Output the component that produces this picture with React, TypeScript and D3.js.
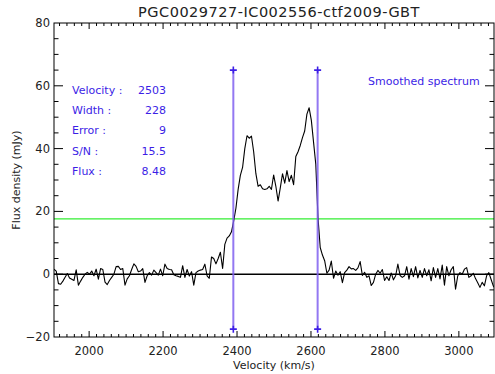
import React, { useEffect, useRef } from 'react';
import * as d3 from 'd3';

// spectrum: channels start at 1905 km/s, 6 km/s apart
const startVelocity = 1905;
const channelWidth = 6;
const flux = [
  1.6, 1.0, -3.0, -3.2, -2.2, -1.0, 0.2, -1.2, -1.6, -2.0,
  1.4, -3.5, -2.2, -1.0, 0.0, 0.6, 0.0, 1.0, -0.5, 1.6,
  -1.6, 1.8, 1.5, -2.5, -3.3, -2.0, -1.0, 0.0, 2.4, 2.5,
  1.5, 1.8, -3.5, -1.5, -0.5, 1.5, 3.3, 2.5, 0.8, 1.0,
  1.8, -2.6, -0.5, 0.5, -0.3, 1.3, 0.5, -0.3, 1.6, -0.5,
  3.2, 1.8, 1.5, 1.4, -0.2, -0.5, -0.7, -1.0, 2.7, -1.0,
  1.5, -0.6, 0.8, -3.5, 0.5, 1.0, 1.3, 1.5, 3.2, -0.5,
  -1.3, 5.5, 5.0, 3.3, 5.0, 7.0, 1.8, 9.5, 11.5, 12.2,
  13.5, 17.0, 21.0, 27.0, 31.5, 34.0, 40.0, 44.1, 43.3, 44.0,
  39.0, 32.0, 28.0, 28.5, 27.2, 27.0, 27.2, 28.0, 27.0, 31.6,
  28.0, 23.3, 27.5, 32.0, 29.0, 33.0, 29.5, 31.5, 28.5, 37.5,
  39.0, 41.0, 43.5, 45.6, 51.0, 53.0, 49.0, 42.0, 35.0, 18.0,
  8.5, 6.1, 4.3, 0.3, 1.3, 4.2, -1.3, 1.0, -0.3, 0.8,
  -2.7, 0.5, 1.3, 2.4, 1.7, 1.8, 1.2, 2.0, 4.0, -0.4,
  0.6, -1.0, -0.5, -3.6, -2.6, 0.0, 1.2, 0.3, 1.5, -2.0,
  -0.8, -2.0, 0.4, -1.8, -0.5, 3.2, -0.4, -1.0, -0.5, 2.4,
  -1.6, 1.8, -0.8, 2.4, -1.2, 1.2, -1.0, 1.8, -0.5, 1.4,
  -2.1, 2.1, -1.0, 1.8, -1.5, 2.9, -3.5, 2.4, -0.5, 1.4,
  2.4, -4.8, -0.5, 0.5, 0.0, 1.6, 2.1, -1.0, -0.5, 0.3,
  -1.4, -2.7, -4.2, -2.6, -3.7, -0.5, 0.5, -1.6, -3.7, -4.6,
  -5.0,
];

const title = 'PGC0029727-IC002556-ctf2009-GBT';
const edgeVelocities = [2390, 2618];
const edgeRange = [-17.5, 65];
const threshold = 17.6;
const statLabels = ['Velocity :', 'Width :', 'Error :', 'S/N :', 'Flux :'];
const statValues = ['2503', '228', '9', '15.5', '8.48'];
const xTicks = [2000, 2200, 2400, 2600, 2800, 3000];
const yTicks = [-20, 0, 20, 40, 60, 80];

const W = 495;
const H = 374;
const margin = { top: 23, right: 1, bottom: 37, left: 54 };
const blue = '#3c1ee6';
const font = 'DejaVu Sans, sans-serif';

const App: React.FC = () => {
  const svgRef = useRef<SVGSVGElement>(null);

  useEffect(() => {
    const svg = d3.select(svgRef.current).html('');
    const x = d3.scaleLinear().domain([1905, 3095]).range([margin.left, W - margin.right]);
    const y = d3.scaleLinear().domain([-20, 80]).range([H - margin.bottom, margin.top]);
    const [x0, x1] = x.range();
    const [yb, yt] = y.range();

    svg.append('defs').append('clipPath').attr('id', 'plot-clip')
      .append('rect').attr('x', x0).attr('y', yt).attr('width', x1 - x0).attr('height', yb - yt);

    // title
    svg.append('text')
      .attr('x', 279).attr('y', 17)
      .attr('text-anchor', 'middle')
      .attr('font-family', font).attr('font-size', 14.5)
      .attr('letter-spacing', 0.5)
      .attr('fill', '#222')
      .text(title);

    const plot = svg.append('g').attr('clip-path', 'url(#plot-clip)');

    // zero line + threshold
    plot.append('line')
      .attr('x1', x0).attr('x2', x1).attr('y1', y(0)).attr('y2', y(0))
      .attr('stroke', '#000').attr('stroke-width', 1.6);
    plot.append('line')
      .attr('x1', x0).attr('x2', x1).attr('y1', y(threshold)).attr('y2', y(threshold))
      .attr('stroke', '#33ee33').attr('stroke-width', 1.3);

    // spectrum
    const line = d3.line<number>()
      .x((_, i) => x(startVelocity + i * channelWidth))
      .y(d => y(d));
    plot.append('path')
      .datum(flux)
      .attr('d', line)
      .attr('fill', 'none')
      .attr('stroke', '#000')
      .attr('stroke-width', 1.1)
      .attr('stroke-linejoin', 'round');

    // profile edges
    edgeVelocities.forEach(v => {
      plot.append('line')
        .attr('x1', x(v)).attr('x2', x(v))
        .attr('y1', y(edgeRange[0])).attr('y2', y(edgeRange[1]))
        .attr('stroke', '#8060f0').attr('stroke-opacity', 0.85).attr('stroke-width', 2);
      edgeRange.forEach(r => {
        plot.append('path')
          .attr('d', `M${x(v) - 3.5},${y(r)}h7M${x(v)},${y(r) - 3.5}v7`)
          .attr('stroke', blue).attr('stroke-width', 1.6);
      });
    });

    // axes frame
    svg.append('rect')
      .attr('x', x0).attr('y', yt).attr('width', x1 - x0).attr('height', yb - yt)
      .attr('fill', 'none').attr('stroke', '#000').attr('stroke-width', 1);

    const ticks = svg.append('g').attr('stroke', '#000').attr('stroke-width', 1);
    d3.range(1920, 3095, 20).forEach(v => {
      const major = v % 200 === 0;
      const len = major ? 6 : 3;
      ticks.append('line').attr('x1', x(v)).attr('x2', x(v)).attr('y1', yb).attr('y2', yb - len);
      ticks.append('line').attr('x1', x(v)).attr('x2', x(v)).attr('y1', yt).attr('y2', yt + len);
    });
    d3.range(-15, 80, 5).forEach(v => {
      const major = v % 20 === 0;
      const len = major ? 9 : 4.5;
      ticks.append('line').attr('x1', x0).attr('x2', x0 + len).attr('y1', y(v)).attr('y2', y(v));
      ticks.append('line').attr('x1', x1).attr('x2', x1 - len).attr('y1', y(v)).attr('y2', y(v));
    });

    const fmt = d3.format('d');
    svg.append('g').selectAll('text').data(xTicks).enter().append('text')
      .attr('x', d => x(d)).attr('y', yb + 18)
      .attr('text-anchor', 'middle')
      .attr('font-family', font).attr('font-size', 11.5).attr('fill', '#222')
      .text(d => fmt(d));
    svg.append('g').selectAll('text').data(yTicks).enter().append('text')
      .attr('x', x0 - 4).attr('y', d => y(d) + 4)
      .attr('text-anchor', 'end')
      .attr('font-family', font).attr('font-size', 11.5).attr('fill', '#222')
      .text(d => fmt(d));

    svg.append('text')
      .attr('x', (x0 + x1) / 2).attr('y', 369)
      .attr('text-anchor', 'middle')
      .attr('font-family', font).attr('font-size', 11).attr('fill', '#222')
      .text('Velocity (km/s)');
    svg.append('text')
      .attr('transform', `translate(20,${(yt + yb) / 2}) rotate(-90)`)
      .attr('text-anchor', 'middle')
      .attr('font-family', font).attr('font-size', 11).attr('fill', '#222')
      .text('Flux density (mJy)');

    // stats
    const stats = svg.append('g').attr('font-family', font).attr('font-size', 11).attr('fill', blue);
    statLabels.forEach((s, i) => {
      stats.append('text').attr('x', 72).attr('y', 94 + i * 20.2).text(s);
      stats.append('text').attr('x', 166).attr('y', 94 + i * 20.2)
        .attr('text-anchor', 'end').text(statValues[i]);
    });
    stats.append('text').attr('x', 368).attr('y', 85).text('Smoothed spectrum');
  }, []);

  return <svg ref={svgRef} width={W} height={H} style={{ position: 'absolute', left: 0, top: 0, background: '#fff' }} />;
};

export default App;
